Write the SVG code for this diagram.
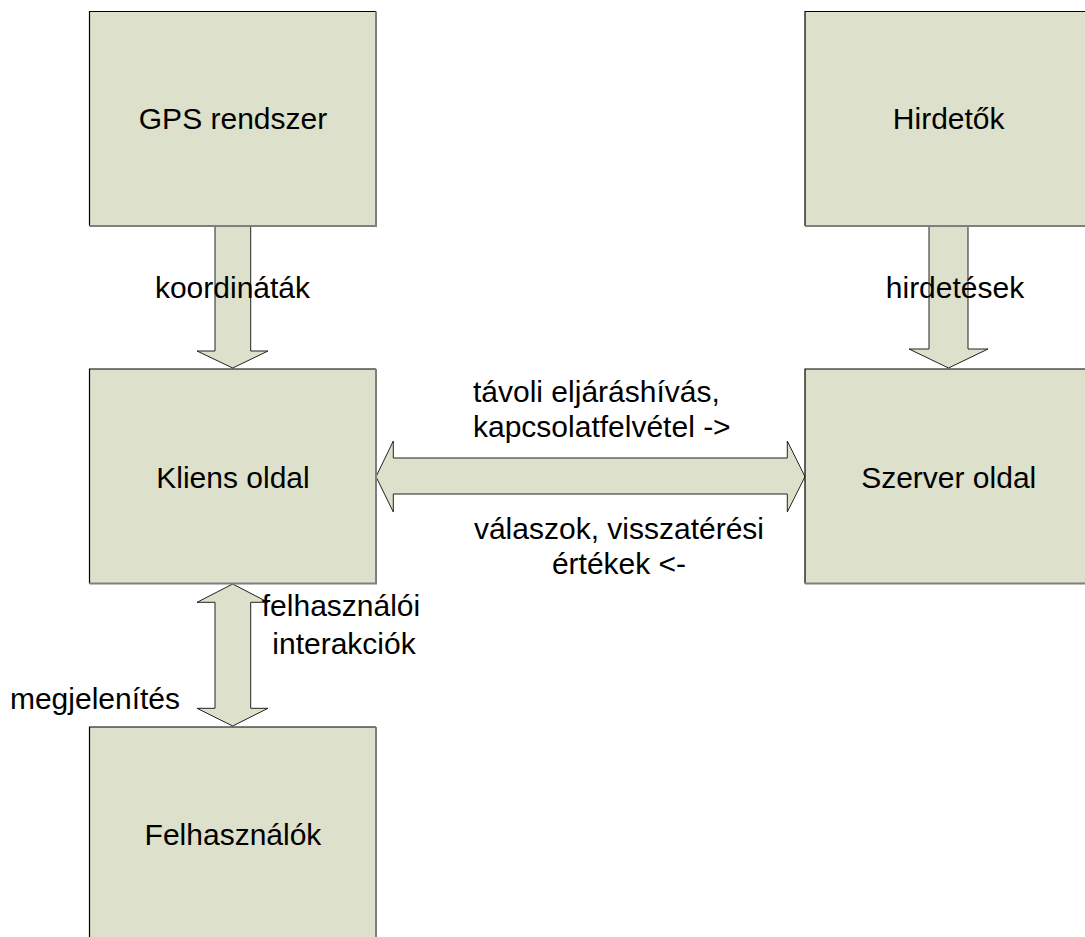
<svg xmlns="http://www.w3.org/2000/svg" width="1085" height="937" viewBox="0 0 1085 937">
<style>
.box{fill:#DDE0CA;stroke:none}
.tl{fill:none;stroke:#000;stroke-width:1.2}
.br{fill:none;stroke:#7f7f7f;stroke-width:2}
.arr{fill:#DDE0CA;stroke:#222;stroke-width:1}
text{font-family:"Liberation Sans",Arial,sans-serif;font-size:30px;fill:#000}
.c{text-anchor:middle}
</style>
<rect width="1085" height="937" fill="#fff"/>
<g id="connectors">
<polygon class="arr" points="215,226 250.7,226 250.7,351 268,351 232.7,368 197,351 215,351"/>
<polygon class="arr" points="929,226 968,226 968,349 988,349 948.5,368 909,349 929,349"/>
<polygon class="arr" points="376,476.7 393.3,441 393.3,458 787.3,458 787.3,441 805,476.7 787.3,512 787.3,494 393.3,494 393.3,512"/>
<polygon class="arr" points="232.7,584 268,602.3 250.7,602.3 250.7,708.3 268,708.3 232.7,726 197,708.3 215,708.3 215,602.3 197,602.3"/>
<text class="c" x="232.5" y="298">koordináták</text>
<text class="c" x="955" y="298">hirdetések</text>
<text x="473" y="401.7">távoli eljáráshívás,</text>
<text x="473" y="436.7">kapcsolatfelvétel -&gt;</text>
<text class="c" x="619" y="539">válaszok, visszatérési</text>
<text class="c" x="619" y="574">értékek &lt;-</text>
<text class="c" x="341" y="616">felhasználói</text>
<text class="c" x="344" y="654">interakciók</text>
<text class="c" x="95" y="709">megjelenítés</text>
</g>
<g id="gps">
<rect class="box" x="89.5" y="11.5" width="286.5" height="214.5"/>
<path class="tl" d="M89.5,226 V11.5 H376"/>
<path class="br" d="M376,11.5 V226 H89.5"/>
<text class="c" x="233" y="128.5">GPS rendszer</text>
</g>
<g id="hirdetok">
<rect class="box" x="805" y="11.5" width="287" height="214.5"/>
<path class="tl" d="M805,226 V11.5 H1092"/>
<path class="br" d="M805,226 H1092"/>
<text class="c" x="948.7" y="128.5">Hirdetők</text>
</g>
<g id="kliens">
<rect class="box" x="89.5" y="369" width="286.5" height="214.5"/>
<path class="tl" d="M89.5,583.5 V369 H376"/>
<path class="br" d="M376,369 V583.5 H89.5"/>
<text class="c" x="233" y="488">Kliens oldal</text>
</g>
<g id="szerver">
<rect class="box" x="805" y="369" width="287" height="214.5"/>
<path class="tl" d="M805,583.5 V369 H1092"/>
<path class="br" d="M805,583.5 H1092"/>
<text class="c" x="948.7" y="488">Szerver oldal</text>
</g>
<g id="felhasznalok">
<rect class="box" x="89.5" y="727" width="286.5" height="220"/>
<path class="tl" d="M89.5,947 V727 H376"/>
<path class="br" d="M376,727 V947"/>
<text class="c" x="233" y="845">Felhasználók</text>
</g>
</svg>
